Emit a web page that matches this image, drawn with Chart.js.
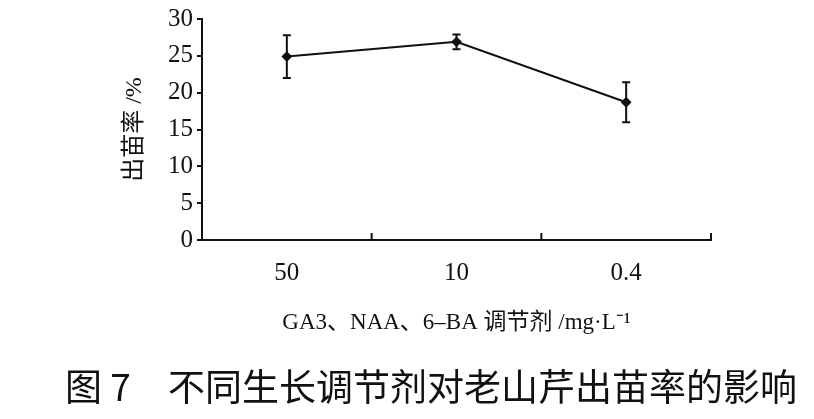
<!DOCTYPE html>
<html>
<head>
<meta charset="utf-8">
<script src="https://cdn.jsdelivr.net/npm/chart.js@4"></script>
<style>
  html, body { margin: 0; padding: 0; background: #fff; }
  #wrap { position: relative; width: 814px; height: 419px; }
  #caption {
    position: absolute; left: 0; top: 365px; width: 814px;
    padding-left: 48px; box-sizing: border-box;
    text-align: center; font-family: "Noto Sans CJK SC", sans-serif;
    font-size: 37px; line-height: 40px; color: #111; white-space: nowrap;
  }
</style>
</head>
<body>
<div id="wrap">
<canvas id="seedChart" width="814" height="360"></canvas>
<div id="caption">图 7　不同生长调节剂对老山芹出苗率的影响</div>
</div>
<script>
var labels = ['50', '10', '0.4'];
var emergence = [24.9, 26.9, 18.7];
var errors = [2.9, 1.0, 2.7];
var yTicks = [0, 5, 10, 15, 20, 25, 30];

var serif = '"Liberation Serif", "Noto Sans CJK SC", serif';

// error bars + inward x ticks
var extras = {
    id: 'extras',
    afterDatasetsDraw: function (chart) {
        var ctx = chart.ctx;
        var x = chart.scales.x, y = chart.scales.y;
        ctx.save();
        ctx.strokeStyle = '#111';
        ctx.lineWidth = 2;
        emergence.forEach(function (v, i) {
            var px = x.getPixelForValue(i);
            var top = y.getPixelForValue(v + errors[i]);
            var bot = y.getPixelForValue(v - errors[i]);
            ctx.beginPath();
            ctx.moveTo(px, top); ctx.lineTo(px, bot);
            ctx.moveTo(px - 4, top); ctx.lineTo(px + 4, top);
            ctx.moveTo(px - 4, bot); ctx.lineTo(px + 4, bot);
            ctx.stroke();
        });
        // tick marks on the x axis between categories, pointing up
        var base = y.getPixelForValue(0);
        for (var i = 0; i < labels.length; i++) {
            var px = (x.getPixelForValue(i) + x.getPixelForValue(i + 1)) / 2;
            ctx.beginPath();
            ctx.moveTo(px, base); ctx.lineTo(px, base - 7);
            ctx.stroke();
        }
        ctx.restore();
    }
};

new Chart(document.getElementById('seedChart').getContext('2d'), {
    type: 'line',
    data: {
        labels: labels,
        datasets: [
            {
                label: '出苗率',
                data: emergence,
                fill: false,
                borderColor: '#111',
                borderWidth: 2,
                pointStyle: 'rectRot',
                pointRadius: 4,
                pointBackgroundColor: '#111',
                pointBorderColor: '#111',
                lineTension: 0
            }
        ]
    },
    options: {
        responsive: false,
        animation: false,
        layout: {
            padding: { left: 120, right: 103, top: 6, bottom: 0 }
        },
        plugins: {
            legend: { display: false },
            tooltip: { enabled: false }
        },
        scales: {
            x: {
                offset: true,
                grid: { display: false, drawTicks: false },
                border: { display: true, color: '#111', width: 2 },
                ticks: {
                    color: '#111',
                    padding: 18,
                    font: { family: serif, size: 25 }
                },
                title: {
                    display: true,
                    text: 'GA3、NAA、6–BA 调节剂 /mg·L⁻¹',
                    color: '#111',
                    font: { family: serif, size: 23 },
                    padding: { top: 0, bottom: 23 }
                },
                afterFit: function (scale) { scale.height = 120; }
            },
            y: {
                min: 0,
                max: 30,
                afterBuildTicks: function (scale) {
                    scale.ticks = yTicks.map(function (v) { return { value: v }; });
                },
                grid: { drawOnChartArea: false, drawTicks: true, tickLength: 5, color: '#111', lineWidth: 2 },
                border: { display: true, color: '#111', width: 2 },
                ticks: {
                    color: '#111',
                    padding: 4,
                    font: { family: serif, size: 25 }
                },
                title: {
                    display: true,
                    text: '出苗率 /%',
                    color: '#111',
                    font: { family: serif, size: 24 },
                    padding: 0
                },
                afterFit: function (scale) { scale.width = 82; }
            }
        }
    },
    plugins: [extras]
});
</script>
</body>
</html>
